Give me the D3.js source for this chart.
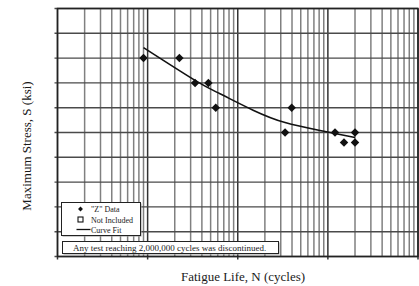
<!DOCTYPE html>
<html>
<head>
<meta charset="utf-8">
<script src="https://cdn.jsdelivr.net/npm/d3@7"></script>
<style>
  body { margin: 0; background: #fff; }
  text { font-family: "Liberation Serif", "Times New Roman", serif; fill: #1a1a1a; }
</style>
</head>
<body>
<div id="chart"></div>
<script>
// data
var cycles = [9000, 22500, 33600, 47200, 57000, 335000, 397000, 1200000, 2000000, 1510000, 2000000];
var stress = [40, 40, 35, 35, 30, 25, 30, 25, 25, 23, 23];

// curve fit, points
var fitCycles = [9000, 33600, 63600, 148000, 335000, 819000, 2000000];
var fitStress = [42.1, 35.5, 32.8, 29.5, 27.0, 25.4, 24.0];

var xDomain = [1e3, 1e7];
var yDomain = [0, 50];
var yStep = 5;

var legendLabels = ["\"Z\" Data", "Not Included", "Curve Fit"];
var noteText = "Any test reaching 2,000,000 cycles was discontinued.";

// chart setup
var svgWidth = 419;
var svgHeight = 286;

var margin = {
  top: 8.5,
  right: 1,
  bottom: 29.5,
  left: 57.5
};

var width = svgWidth - margin.left - margin.right;
var height = svgHeight - margin.top - margin.bottom;

var svg = d3.select("#chart")
  .append("svg")
  .attr("width", svgWidth)
  .attr("height", svgHeight);

var chartGroup = svg.append("g")
  .attr("transform", `translate(${margin.left}, ${margin.top})`);

// scales
var xLogScale = d3.scaleLog()
  .domain(xDomain)
  .range([0, width]);

var yLinearScale = d3.scaleLinear()
  .domain(yDomain)
  .range([height, 0]);

// grid values
var decades = [];
var minors = [];
for (var p = 3; p <= 7; p++) {
  decades.push(Math.pow(10, p));
  if (p < 7) {
    for (var m = 2; m <= 9; m++) minors.push(m * Math.pow(10, p));
  }
}
var yTicks = d3.range(yDomain[0], yDomain[1] + 0.001, yStep);

// vertical minor grid
chartGroup.selectAll(".vminor")
  .data(minors)
  .enter()
  .append("line")
  .attr("x1", d => xLogScale(d))
  .attr("x2", d => xLogScale(d))
  .attr("y1", 0)
  .attr("y2", height)
  .attr("stroke", "#808080")
  .attr("stroke-width", 1.5);

// decade lines
chartGroup.selectAll(".vmajor")
  .data(decades)
  .enter()
  .append("line")
  .attr("x1", d => xLogScale(d))
  .attr("x2", d => xLogScale(d))
  .attr("y1", 0)
  .attr("y2", height + 3)
  .attr("stroke", "#333")
  .attr("stroke-width", 1.5);

// horizontal grid with small outside ticks
chartGroup.selectAll(".hgrid")
  .data(yTicks)
  .enter()
  .append("line")
  .attr("x1", -3)
  .attr("x2", width)
  .attr("y1", d => yLinearScale(d))
  .attr("y2", d => yLinearScale(d))
  .attr("stroke", "#4a4a4a")
  .attr("stroke-width", 1.4);

// frame
chartGroup.append("rect")
  .attr("x", 0)
  .attr("y", 0)
  .attr("width", width)
  .attr("height", height)
  .attr("fill", "none")
  .attr("stroke", "#222")
  .attr("stroke-width", 1.5);

// curve fit
var fitLine = d3.line()
  .x(d => xLogScale(d[0]))
  .y(d => yLinearScale(d[1]))
  .curve(d3.curveNatural);

chartGroup.append("path")
  .datum(fitCycles.map((n, i) => [n, fitStress[i]]))
  .attr("d", fitLine)
  .attr("fill", "none")
  .attr("stroke", "#111")
  .attr("stroke-width", 1.6);

// data points (diamonds)
var diamond = d3.symbol().type(d3.symbolSquare).size(36);

chartGroup.selectAll(".pt")
  .data(cycles.map((n, i) => [n, stress[i]]))
  .enter()
  .append("path")
  .attr("d", diamond)
  .attr("transform", d => `translate(${xLogScale(d[0])}, ${yLinearScale(d[1])}) rotate(45)`)
  .attr("fill", "#111");

// legend box
var legend = svg.append("g")
  .attr("transform", "translate(61.5, 202.5)");

legend.append("rect")
  .attr("x", 1).attr("y", 1)
  .attr("width", 79).attr("height", 33)
  .attr("fill", "#999");
legend.append("rect")
  .attr("width", 79).attr("height", 33)
  .attr("fill", "#fff")
  .attr("stroke", "#222")
  .attr("stroke-width", 1);

legend.append("path")
  .attr("d", d3.symbol().type(d3.symbolSquare).size(12))
  .attr("transform", "translate(19, 6.5) rotate(45)")
  .attr("fill", "#111");
legend.append("rect")
  .attr("x", 16.5).attr("y", 14.5)
  .attr("width", 5).attr("height", 5)
  .attr("fill", "#fff")
  .attr("stroke", "#111")
  .attr("stroke-width", 1.1);
legend.append("line")
  .attr("x1", 15).attr("x2", 29)
  .attr("y1", 27).attr("y2", 27)
  .attr("stroke", "#111")
  .attr("stroke-width", 1.3);

legend.selectAll(".lt")
  .data(legendLabels)
  .enter()
  .append("text")
  .attr("x", 29.5)
  .attr("y", (d, i) => 9.5 + i * 10.5)
  .attr("font-size", "8px")
  .text(d => d);

// note box
var note = svg.append("g")
  .attr("transform", "translate(62.5, 241.5)");

note.append("rect")
  .attr("x", 1).attr("y", 1)
  .attr("width", 216).attr("height", 12)
  .attr("fill", "#999");
note.append("rect")
  .attr("width", 216).attr("height", 12)
  .attr("fill", "#fff")
  .attr("stroke", "#222")
  .attr("stroke-width", 1);
note.append("text")
  .attr("x", 10.5)
  .attr("y", 9.5)
  .attr("font-size", "9px")
  .text(noteText);

// axis labels
svg.append("text")
  .attr("x", 243)
  .attr("y", 281)
  .attr("text-anchor", "middle")
  .attr("font-size", "13px")
  .text("Fatigue Life, N (cycles)");

svg.append("text")
  .attr("transform", "translate(31, 146) rotate(-90)")
  .attr("text-anchor", "middle")
  .attr("font-size", "13px")
  .text("Maximum Stress, S (ksi)");
</script>
</body>
</html>
